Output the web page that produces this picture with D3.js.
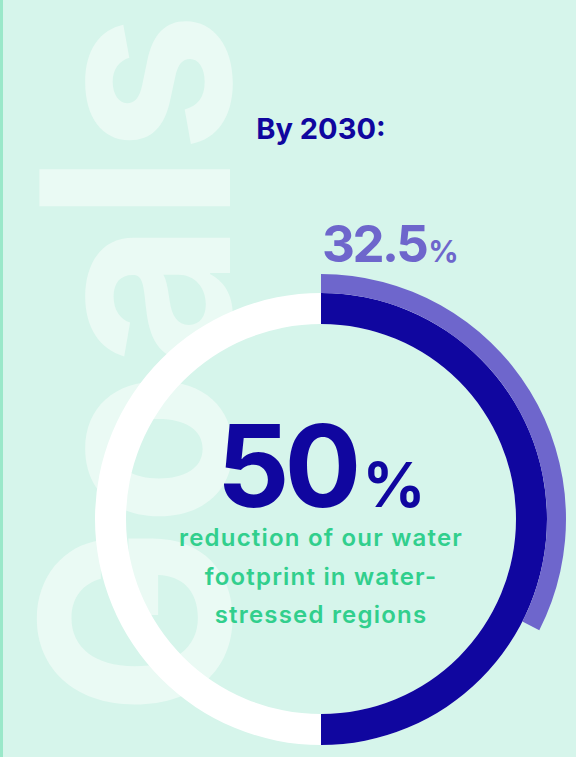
<!DOCTYPE html>
<html>
<head>
<meta charset="utf-8">
<script src="https://cdn.jsdelivr.net/npm/d3@7"></script>
<style>
    body { margin: 0; background: #d6f5eb; }
    svg { display: block; }
</style>
</head>
<body>
<div id="chart"></div>
<script>
// goal and current progress, in percent
const goalValues = [50];
const progressValues = [32.5];
const headline = ["By 2030:"];
const watermark = ["Goals"];
const captionLines = ["reduction of our water", "footprint in water-", "stressed regions"];

const width = 576;
const height = 757;
const cx = 321, cy = 519;

const svg = d3.select("#chart")
    .append("svg")
    .attr("width", width)
    .attr("height", height);

svg.append("rect")
    .attr("width", width)
    .attr("height", height)
    .attr("fill", "#d6f5eb");

// thin stripe on the left edge
svg.append("rect")
    .attr("width", 3)
    .attr("height", height)
    .attr("fill", "#9ae8c9");

// big faded word behind the ring
svg.append("text")
    .attr("transform", "translate(230, 716) rotate(-90)")
    .attr("font-family", "Inter, sans-serif")
    .attr("font-weight", 700)
    .attr("font-size", 262)
    .attr("fill", "#eafaf4")
    .attr("textLength", 704)
    .attr("lengthAdjust", "spacingAndGlyphs")
    .text(watermark[0]);

const angle = d3.scaleLinear().domain([0, 100]).range([0, 2 * Math.PI]);

const g = svg.append("g")
    .attr("transform", `translate(${cx}, ${cy})`);

const ringArc = d3.arc().innerRadius(195).outerRadius(226);
const outerArc = d3.arc().innerRadius(226).outerRadius(245);

g.append("path")
    .attr("d", ringArc({ startAngle: 0, endAngle: angle(100) }))
    .attr("fill", "#ffffff");

g.selectAll(".goal")
    .data(goalValues)
    .join("path")
    .attr("class", "goal")
    .attr("d", d => ringArc({ startAngle: 0, endAngle: angle(d) }))
    .attr("fill", "#10069f");

g.selectAll(".progress")
    .data(progressValues)
    .join("path")
    .attr("class", "progress")
    .attr("d", d => outerArc({ startAngle: 0, endAngle: angle(d) }))
    .attr("fill", "#6e66cc");

// headline
svg.append("text")
    .attr("x", cx)
    .attr("y", 139)
    .attr("text-anchor", "middle")
    .attr("font-family", "Inter, sans-serif")
    .attr("font-weight", 700)
    .attr("font-size", 29)
    .attr("fill", "#10069f")
    .text(headline[0]);

// progress label
const prog = svg.append("text")
    .attr("x", cx + 1)
    .attr("y", 262)
    .attr("font-family", "Inter, sans-serif")
    .attr("font-weight", 700)
    .attr("fill", "#6e66cc");
prog.append("tspan").attr("font-size", 51).attr("letter-spacing", -2.5).text(d3.format(".1f")(progressValues[0]));
prog.append("tspan").attr("font-size", 30).attr("dx", 2).text("%");

// goal label
const goal = svg.append("text")
    .attr("x", cx)
    .attr("y", 507)
    .attr("text-anchor", "middle")
    .attr("font-family", "Inter, sans-serif")
    .attr("font-weight", 700)
    .attr("fill", "#10069f");
goal.append("tspan").attr("font-size", 114).attr("letter-spacing", -5).text(goalValues[0]);
goal.append("tspan").attr("font-size", 62).attr("dx", 6).text("%");

svg.append("g")
    .selectAll("text")
    .data(captionLines)
    .join("text")
    .attr("x", cx)
    .attr("y", (d, i) => 546 + i * 38.5)
    .attr("text-anchor", "middle")
    .attr("font-family", "Inter, sans-serif")
    .attr("font-weight", 600)
    .attr("font-size", 24)
    .attr("letter-spacing", 1.2)
    .attr("fill", "#31cf8d")
    .text(d => d);
</script>
</body>
</html>
